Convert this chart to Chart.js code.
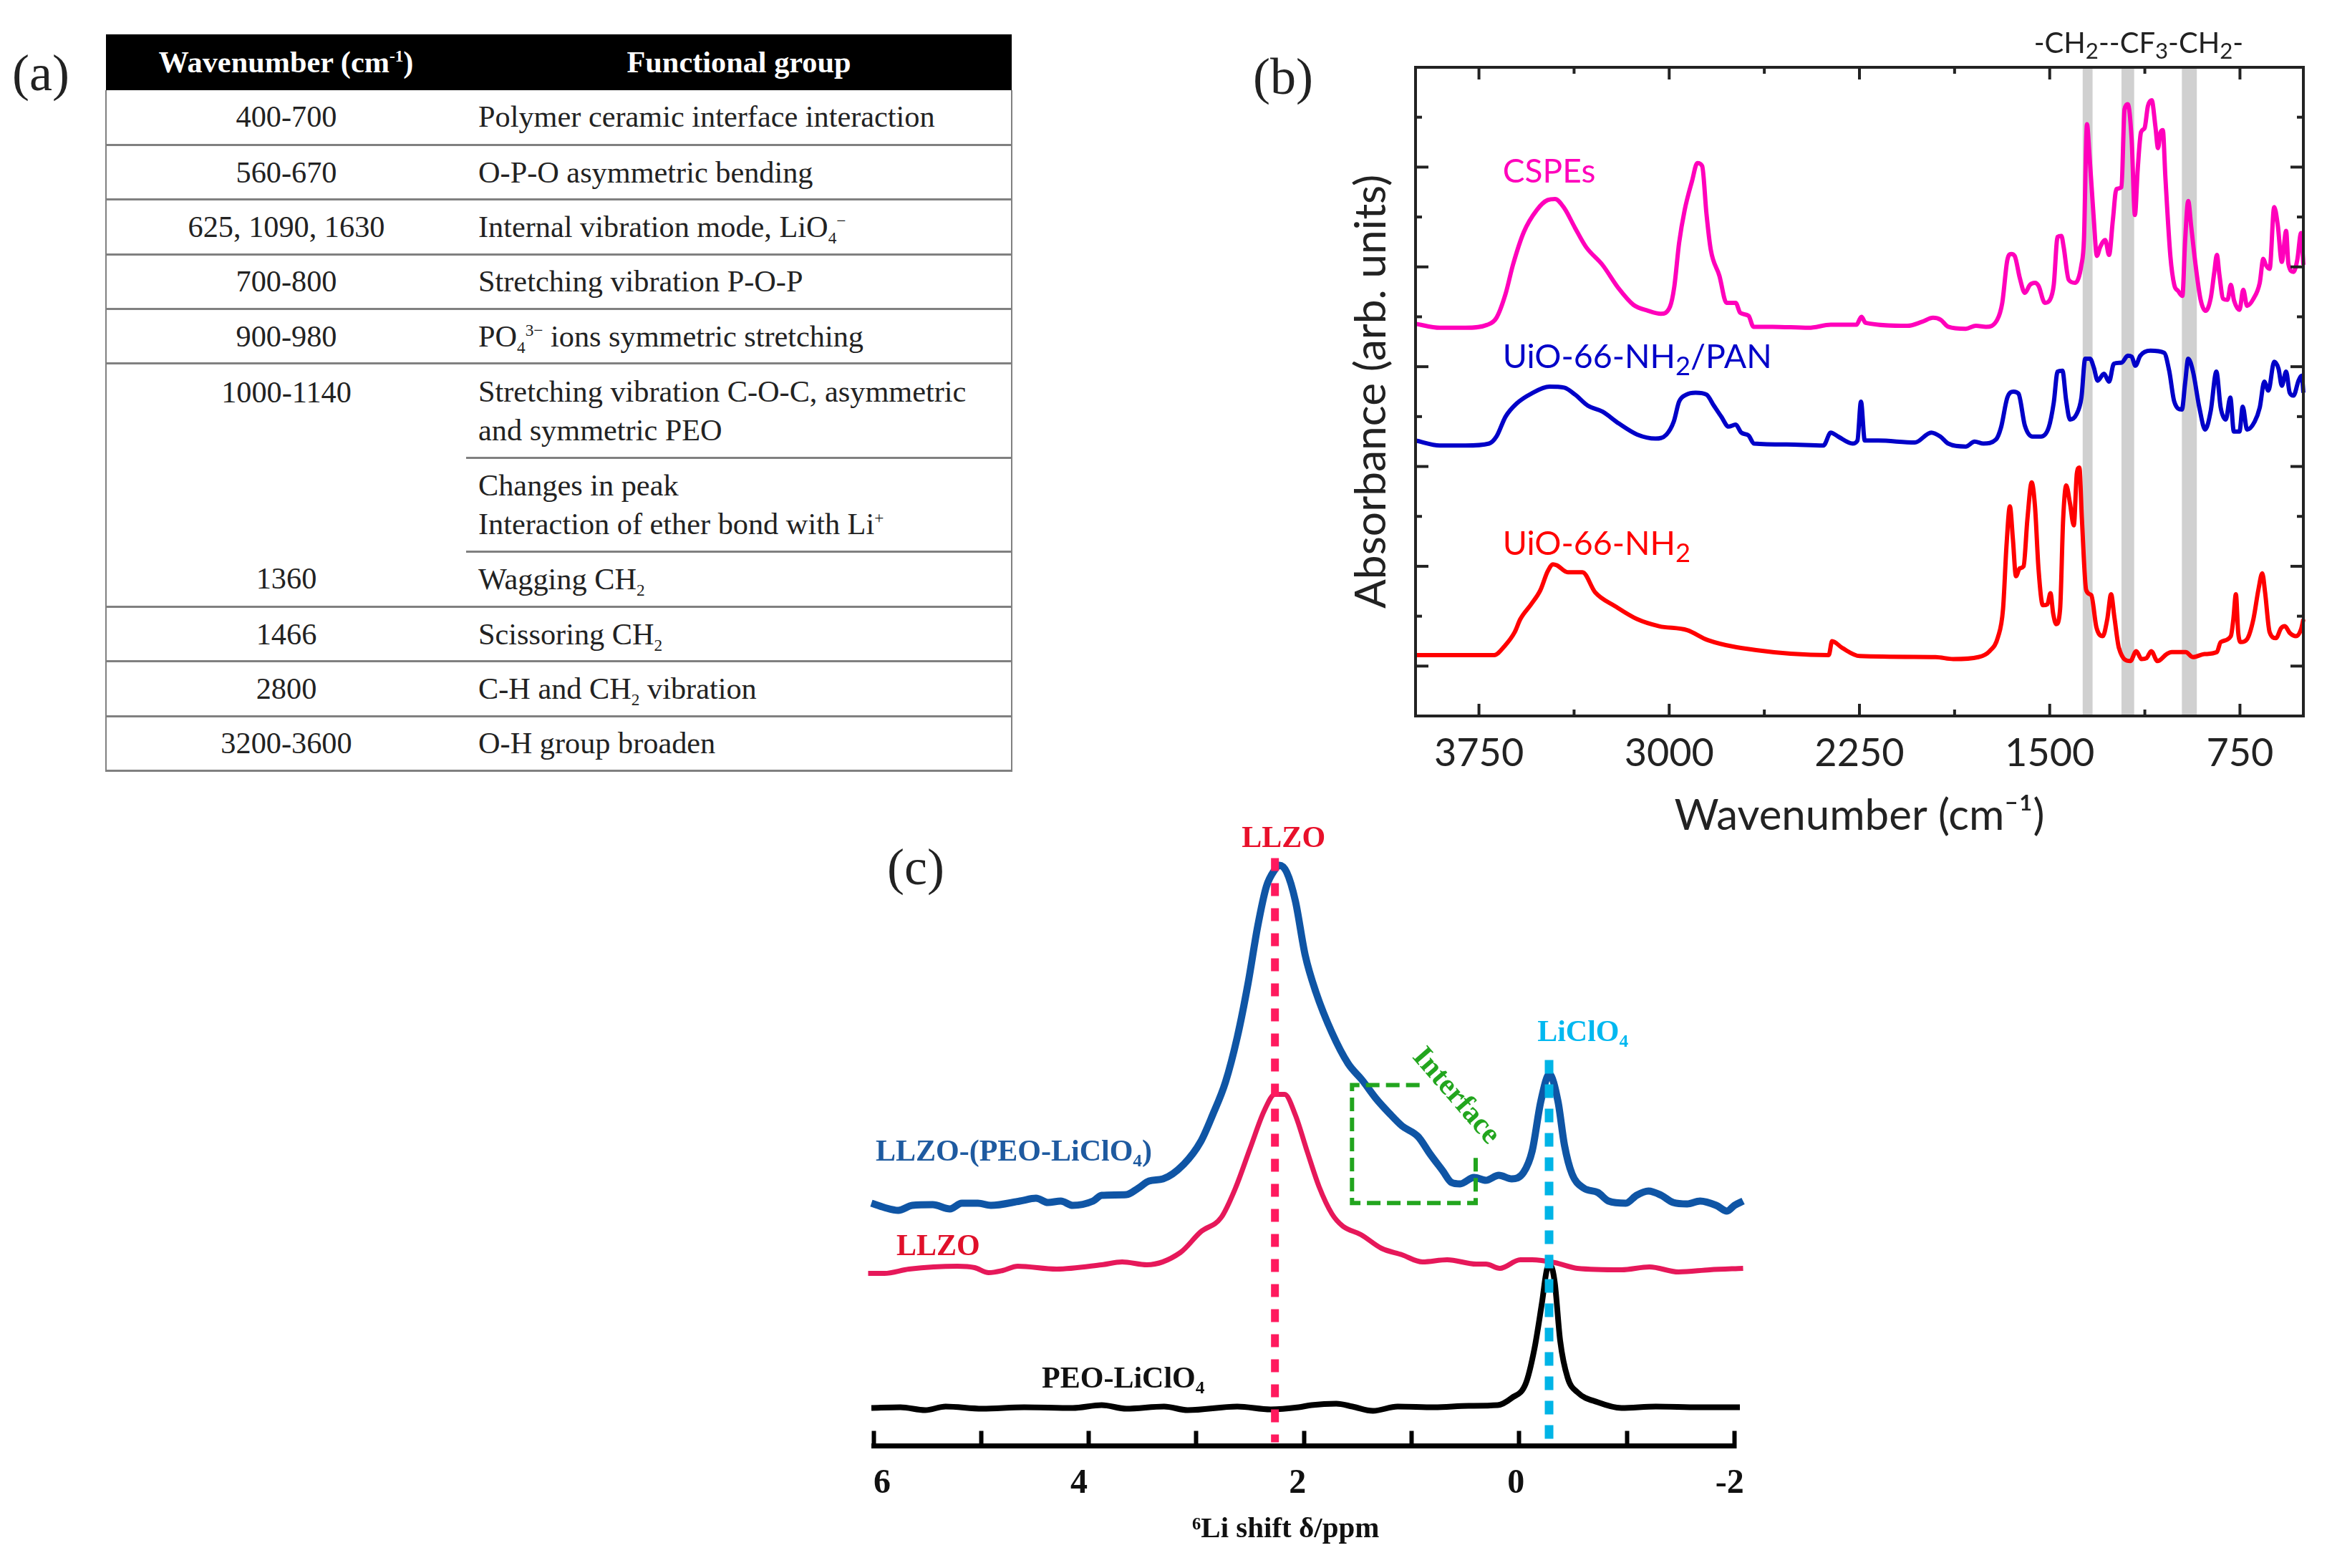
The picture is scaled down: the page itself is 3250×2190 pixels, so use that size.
<!DOCTYPE html>
<html>
<head>
<meta charset="utf-8">
<title>Spectra</title>
<script src="https://cdn.jsdelivr.net/npm/chart.js@4"></script>
<style>
  html, body { margin: 0; background: #fff; }
  #page { position: relative; width: 3250px; height: 2190px; overflow: hidden; }
  .panel { position: absolute; font: 72px/72px "Liberation Serif", serif; color: #222; }
  .box { position: absolute; }
  table { position: absolute; left: 147px; top: 48px; width: 1267px; table-layout: fixed;
    border-collapse: collapse; font: 42.3px/54px "Liberation Serif", serif; color: #222; }
  th { background: #000; color: #fff; height: 78px; padding: 0; font-weight: bold; border: 0; }
  td { padding: 0; border-bottom: 3px solid #808080; box-sizing: border-box; }
  td.a { text-align: center; border-left: 2px solid #808080; }
  td.b { padding-left: 17px; border-right: 2px solid #808080; }
  tr.r td { height: 76.4px; }
  td.top { vertical-align: top; padding-top: 12px; }
  td.open { border-bottom: 0; }
  sub, sup { font-size: 55%; line-height: 0; }
</style>
</head>
<body>
<div id="page">
  <div class="panel" style="left:17px;top:66px">(a)</div>
  <div class="panel" style="left:1750px;top:71px">(b)</div>
  <div class="panel" style="left:1239px;top:1175px">(c)</div>

  <table>
    <colgroup><col style="width:503px"><col></colgroup>
    <tr><th>Wavenumber (cm<sup>-1</sup>)</th><th>Functional group</th></tr>
    <tr class="r"><td class="a">400-700</td><td class="b">Polymer ceramic interface interaction</td></tr>
    <tr class="r"><td class="a">560-670</td><td class="b">O-P-O asymmetric bending</td></tr>
    <tr class="r"><td class="a">625, 1090, 1630</td><td class="b">Internal vibration mode, LiO<sub>4</sub><sup>−</sup></td></tr>
    <tr class="r"><td class="a">700-800</td><td class="b">Stretching vibration P-O-P</td></tr>
    <tr class="r"><td class="a">900-980</td><td class="b">PO<sub>4</sub><sup>3−</sup> ions symmetric stretching</td></tr>
    <tr style="height:132px"><td class="a top open" rowspan="2">1000-1140</td><td class="b">Stretching vibration C-O-C, asymmetric<br>and symmetric PEO</td></tr>
    <tr style="height:131px"><td class="b">Changes in peak<br>Interaction of ether bond with Li<sup>+</sup></td></tr>
    <tr class="r"><td class="a">1360</td><td class="b">Wagging CH<sub>2</sub></td></tr>
    <tr class="r"><td class="a">1466</td><td class="b">Scissoring CH<sub>2</sub></td></tr>
    <tr class="r"><td class="a">2800</td><td class="b">C-H and CH<sub>2</sub> vibration</td></tr>
    <tr class="r"><td class="a">3200-3600</td><td class="b">O-H group broaden</td></tr>
  </table>

  <div class="box" style="left:1860px;top:0;width:1390px;height:1200px"><canvas id="ftir"></canvas></div>
  <div class="box" style="left:1180px;top:1150px;width:1300px;height:1040px"><canvas id="nmr"></canvas></div>
</div>

<script>
// (b) FTIR, values
const cspeWn = [4000,3904,3803,3717,3681,3645,3616,3573,3522,3479,3450,3414,3371,3328,3263,3198,3141,3083,3033,2997,2980,2961,2939,2910,2889,2870,2853,2836,2802,2774,2738,2720,2687,2668,2593,2450,2363,2262,2242,2226,2061,2003,1960,1930,1900,1831,1791,1751,1707,1687,1667,1652,1638,1618,1598,1578,1558,1544,1519,1499,1484,1469,1454,1445,1425,1400,1375,1365,1353,1344,1326,1314,1301,1281,1266,1251,1237,1217,1205,1192,1177,1164,1153,1140,1126,1113,1098,1083,1073,1063,1054,1044,1024,1009,994,977,966,954,942,925,905,885,865,851,841,831,816,799,786,773,752,737,722,697,672,658,648,633,615,601,585,568,559,539,524,509,500];
const cspeAbs = [3.43,3.39,3.39,3.42,3.49,3.73,4.02,4.35,4.57,4.67,4.68,4.59,4.39,4.20,4.02,3.78,3.62,3.56,3.53,3.60,3.80,4.24,4.57,4.86,5.04,5.01,4.53,4.17,3.91,3.64,3.64,3.54,3.51,3.40,3.40,3.39,3.42,3.42,3.50,3.44,3.41,3.45,3.49,3.47,3.40,3.38,3.41,3.40,3.47,3.64,4.07,4.13,4.11,3.89,3.74,3.82,3.84,3.81,3.64,3.67,3.82,4.30,4.31,4.20,3.87,3.84,4.02,4.27,5.43,5.15,4.47,4.11,4.20,4.27,4.12,4.47,4.78,4.80,5.58,5.63,5.28,4.52,4.98,5.35,5.39,5.61,5.67,5.40,5.19,5.35,5.37,4.90,4.10,3.82,3.76,3.71,4.27,4.66,4.40,4.02,3.67,3.56,3.69,3.95,4.12,3.92,3.68,3.67,3.82,3.66,3.57,3.77,3.61,3.68,3.84,4.08,4.02,3.98,4.60,4.42,4.05,4.36,4.03,3.95,4.07,4.34,4.02];
const panWn = [4000,3904,3803,3710,3681,3645,3602,3544,3472,3414,3371,3321,3263,3198,3126,3054,3011,2982,2961,2932,2896,2853,2824,2795,2766,2738,2716,2687,2666,2536,2392,2363,2334,2277,2258,2244,2229,2176,2032,1967,1931,1900,1831,1796,1761,1712,1692,1667,1643,1623,1598,1568,1534,1504,1484,1469,1450,1435,1420,1395,1375,1360,1341,1326,1311,1286,1266,1247,1217,1192,1177,1162,1143,1103,1049,1029,1009,979,966,954,935,910,887,865,843,826,806,788,774,752,739,722,692,672,654,638,615,598,585,568,554,539,519,506,500];
const panAbs = [2.26,2.21,2.21,2.23,2.30,2.50,2.63,2.73,2.80,2.79,2.72,2.61,2.55,2.43,2.32,2.28,2.32,2.45,2.65,2.72,2.74,2.72,2.61,2.50,2.40,2.42,2.34,2.31,2.23,2.22,2.21,2.34,2.30,2.23,2.26,2.65,2.26,2.26,2.24,2.34,2.30,2.23,2.20,2.25,2.23,2.27,2.39,2.69,2.75,2.73,2.41,2.30,2.30,2.39,2.64,2.95,2.96,2.66,2.47,2.52,2.69,3.08,3.08,2.99,2.86,2.93,2.85,3.03,3.04,3.11,3.10,3.01,3.11,3.16,3.14,2.96,2.65,2.57,2.84,3.08,2.95,2.59,2.37,2.56,2.95,2.59,2.47,2.69,2.35,2.35,2.60,2.37,2.45,2.59,2.85,2.76,3.05,2.98,2.81,2.95,2.74,2.71,2.86,2.91,2.74];
const uioWn = [4000,3690,3649,3609,3587,3544,3508,3479,3458,3443,3400,3342,3292,3213,3126,3040,2929,2847,2657,2371,2358,2317,2249,1950,1880,1781,1737,1704,1684,1670,1657,1645,1633,1618,1603,1588,1571,1558,1544,1527,1509,1497,1486,1474,1459,1447,1435,1420,1405,1393,1383,1373,1356,1336,1316,1291,1273,1258,1245,1227,1182,1159,1138,1118,1100,1075,1039,1019,964,935,890,841,826,786,776,766,757,747,722,697,677,662,651,633,608,588,573,553,529,509,500];
const uioAbs = [0.11,0.11,0.20,0.34,0.47,0.62,0.76,0.95,1.02,1.01,0.94,0.94,0.74,0.60,0.47,0.40,0.36,0.26,0.16,0.11,0.25,0.18,0.10,0.09,0.07,0.09,0.15,0.29,0.57,1.22,1.60,1.27,0.90,0.98,1.00,1.47,1.84,1.60,0.97,0.61,0.62,0.73,0.52,0.42,0.57,1.47,1.81,1.63,1.41,1.93,1.99,1.47,0.76,0.71,0.39,0.30,0.47,0.72,0.49,0.18,0.05,0.15,0.07,0.08,0.15,0.05,0.12,0.14,0.14,0.09,0.12,0.14,0.24,0.30,0.47,0.72,0.34,0.24,0.27,0.47,0.77,0.93,0.74,0.34,0.28,0.38,0.40,0.33,0.30,0.37,0.47];
const bandFrom = [1370, 1217, 979];
const bandTo = [1331, 1167, 920];
const ftirMajorX = [3750, 3000, 2250, 1500, 750];
const ftirMinorX = [3375, 2625, 1875, 1125];
const ftirMajorY = [0, 1, 2, 3, 4, 5];
const ftirMinorY = [0.5, 1.5, 2.5, 3.5, 4.5, 5.5];

// (c) 6Li NMR
const hybridPpm = [6.02,5.90,5.77,5.64,5.45,5.29,5.18,5.03,4.91,4.64,4.49,4.38,4.26,4.15,3.96,3.88,3.65,3.54,3.44,3.31,3.12,2.96,2.85,2.73,2.62,2.52,2.43,2.35,2.27,2.23,2.16,2.08,1.99,1.89,1.74,1.59,1.46,1.33,1.21,1.09,0.94,0.83,0.71,0.63,0.55,0.42,0.31,0.19,0.07,-0.04,-0.12,-0.20,-0.28,-0.36,-0.42,-0.49,-0.60,-0.73,-0.83,-0.99,-1.09,-1.20,-1.32,-1.43,-1.56,-1.68,-1.83,-1.93,-2.00,-2.08];
const hybridInt = [3.39,3.33,3.29,3.36,3.37,3.31,3.39,3.39,3.36,3.42,3.46,3.40,3.42,3.36,3.42,3.50,3.51,3.60,3.70,3.73,3.93,4.25,4.62,5.08,5.71,6.46,7.26,7.81,8.05,8.11,8.01,7.61,6.86,6.34,5.77,5.34,5.11,4.85,4.65,4.47,4.32,4.08,3.84,3.68,3.66,3.75,3.71,3.78,3.73,3.82,4.12,4.81,5.19,4.81,4.20,3.80,3.60,3.54,3.42,3.39,3.50,3.56,3.50,3.40,3.38,3.42,3.36,3.28,3.36,3.42];
const llzoPpm = [6.05,5.90,5.67,5.22,5.06,4.93,4.80,4.66,4.30,3.88,3.69,3.46,3.15,2.96,2.77,2.64,2.50,2.37,2.27,2.18,2.08,1.97,1.86,1.74,1.64,1.47,1.28,1.09,0.90,0.67,0.40,0.31,0.18,-0.01,-0.12,-0.33,-0.54,-0.95,-1.21,-1.48,-1.77,-2.08];
const llzoInt = [2.41,2.41,2.47,2.51,2.49,2.42,2.45,2.51,2.47,2.53,2.57,2.53,2.70,2.99,3.19,3.59,4.16,4.68,4.91,4.91,4.62,4.11,3.62,3.24,3.07,2.95,2.76,2.67,2.57,2.60,2.54,2.54,2.48,2.60,2.60,2.56,2.48,2.46,2.50,2.43,2.46,2.48];
const peoPpm = [6.02,5.75,5.52,5.33,4.99,4.60,4.15,3.88,3.65,3.30,3.08,2.62,2.31,2.05,1.93,1.70,1.55,1.36,1.13,0.79,0.47,0.20,0.07,-0.06,-0.14,-0.21,-0.26,-0.29,-0.33,-0.38,-0.45,-0.54,-0.73,-0.95,-1.27,-1.67,-2.05];
const peoInt = [0.53,0.54,0.50,0.55,0.52,0.54,0.53,0.57,0.52,0.55,0.50,0.55,0.51,0.54,0.57,0.59,0.55,0.49,0.55,0.54,0.56,0.57,0.67,0.87,1.35,1.99,2.48,2.52,2.28,1.47,0.95,0.75,0.61,0.53,0.55,0.54,0.54];
const nmrTicks = [6, 5, 4, 3, 2, 1, 0, -1, -2];
const llzoGuidePpm = [2.27, 2.27];
const llzoGuideInt = [8.21, 0.05];
const licloGuidePpm = [-0.277, -0.277];
const licloGuideInt = [5.39, 0.1];
const boxPpm = [0.926, 1.554, 1.554, 0.405, 0.405];
const boxInt = [5.04, 5.04, 3.392, 3.392, 4.083];

const ftirNotes = [
  { text: 'CSPEs', x: 3656, y: 4.842, color: '#ff00bb', size: 46 },
  { text: 'UiO-66-NH₂/PAN', x: 3656, y: 2.984, color: '#0000c8', size: 46.5 },
  { text: 'UiO-66-NH₂', x: 3656, y: 1.112, color: '#ff0000', size: 46.5 },
  { text: '-CH₂--CF₃-CH₂-', x: 1562, y: 6.14, color: '#222', size: 40 }
];
const nmrNotes = [
  { text: 'LLZO', x: 2.19, y: 8.365, color: '#e8102a', align: 'center' },
  { text: 'LiClO₄', x: -0.168, y: 5.655, color: '#00b8f0' },
  { text: 'LLZO-(PEO-LiClO₄)', x: 5.98, y: 3.99, color: '#1e5aa0' },
  { text: 'LLZO', x: 5.787, y: 2.669, color: '#e0102a' },
  { text: 'PEO-LiClO₄', x: 4.436, y: 0.815, color: '#111' },
  { text: 'Interface', x: 0.59, y: 4.885, color: '#22a51e', align: 'center', rotate: 49 },
  { text: '6', x: 5.92, y: -0.655, color: '#111', font: 'bold 48px "Liberation Serif"', align: 'center' },
  { text: '4', x: 4.09, y: -0.655, color: '#111', font: 'bold 48px "Liberation Serif"', align: 'center' },
  { text: '2', x: 2.06, y: -0.655, color: '#111', font: 'bold 48px "Liberation Serif"', align: 'center' },
  { text: '0', x: 0.03, y: -0.655, color: '#111', font: 'bold 48px "Liberation Serif"', align: 'center' },
  { text: '-2', x: -1.955, y: -0.655, color: '#111', font: 'bold 48px "Liberation Serif"', align: 'center' },
  { text: '⁶Li shift δ/ppm', x: 2.17, y: -1.275, color: '#111', font: 'bold 41px "Liberation Serif"', align: 'center' }
];
const subDigits = { '₂': '2', '₃': '3' };

function xy(xs, ys) {
  return xs.map((x, i) => ({ x, y: ys[i] }));
}

function curve(label, xs, ys, color, width) {
  return { label, data: xy(xs, ys), borderColor: color, borderWidth: width, pointRadius: 0,
    cubicInterpolationMode: 'monotone', clip: false, borderJoinStyle: 'round' };
}

function dashed(label, xs, ys, color, width, dash) {
  return { label, data: xy(xs, ys), borderColor: color, borderWidth: width, pointRadius: 0,
    borderDash: dash, clip: false };
}

const bandPlugin = {
  id: 'bands',
  beforeDatasetsDraw(chart) {
    const { ctx, chartArea: a, scales: { x } } = chart;
    ctx.save();
    ctx.fillStyle = '#d0d0d0';
    bandFrom.forEach((from, i) => {
      const l = x.getPixelForValue(from);
      ctx.fillRect(l, a.top, x.getPixelForValue(bandTo[i]) - l, a.height);
    });
    ctx.restore();
  }
};

// inward ticks on all four sides, the library only does one length per axis
const framePlugin = {
  id: 'frame',
  afterDatasetsDraw(chart) {
    const { ctx, chartArea: a, scales: { x, y } } = chart;
    ctx.save();
    ctx.strokeStyle = '#222';
    ctx.lineWidth = 4;
    ctx.strokeRect(a.left, a.top, a.width, a.height);
    const mark = (x1, y1, x2, y2) => {
      ctx.beginPath(); ctx.moveTo(x1, y1); ctx.lineTo(x2, y2); ctx.stroke();
    };
    const xMark = (v, len) => {
      const p = x.getPixelForValue(v);
      mark(p, a.top, p, a.top + len);
      mark(p, a.bottom, p, a.bottom - len);
    };
    const yMark = (v, len) => {
      const p = y.getPixelForValue(v);
      mark(a.left, p, a.left + len, p);
      mark(a.right, p, a.right - len, p);
    };
    ftirMajorX.forEach(v => xMark(v, 17));
    ftirMinorX.forEach(v => xMark(v, 9));
    ftirMajorY.forEach(v => yMark(v, 18));
    ftirMinorY.forEach(v => yMark(v, 9));
    ctx.restore();
  }
};

// size means Lato with real lowered subscripts, otherwise the text goes in as it is
function writeRuns(ctx, text, size, color) {
  let at = 0;
  text.split(/([₂₃])/).forEach(part => {
    const sub = subDigits[part];
    ctx.font = (sub ? size * 0.78 : size) + 'px Lato';
    ctx.fillStyle = color;
    ctx.fillText(sub || part, at, sub ? size * 0.2 : 0);
    at += ctx.measureText(sub || part).width;
  });
}

const notesPlugin = {
  id: 'notes',
  afterDraw(chart, args, opts) {
    const { ctx, scales: { x, y } } = chart;
    opts.items.forEach(n => {
      ctx.save();
      ctx.translate(x.getPixelForValue(n.x), y.getPixelForValue(n.y));
      if (n.rotate) ctx.rotate(n.rotate * Math.PI / 180);
      ctx.textAlign = n.align || 'left';
      ctx.textBaseline = n.rotate ? 'middle' : 'alphabetic';
      if (n.size) {
        writeRuns(ctx, n.text, n.size, n.color);
      } else {
        ctx.font = n.font || opts.font;
        ctx.fillStyle = n.color;
        ctx.fillText(n.text, 0, 0);
      }
      ctx.restore();
    });
  }
};

new Chart(document.getElementById('ftir'), {
  type: 'line',
  data: {
    datasets: [
      curve('CSPEs', cspeWn, cspeAbs, '#ff00bb', 6),
      curve('UiO-66-NH2/PAN', panWn, panAbs, '#0000c8', 6),
      curve('UiO-66-NH2', uioWn, uioAbs, '#ff0000', 6)
    ]
  },
  plugins: [bandPlugin, framePlugin, notesPlugin],
  options: {
    responsive: true,
    maintainAspectRatio: false,
    animation: false,
    layout: { padding: { top: 94, right: 33, left: 0, bottom: 0 } },
    plugins: {
      legend: { display: false },
      tooltip: { enabled: false },
      notes: { items: ftirNotes }
    },
    scales: {
      x: {
        type: 'linear', reverse: true, min: 500, max: 4000,
        grid: { display: false },
        border: { display: false },
        afterBuildTicks: s => { s.ticks = ftirMajorX.map(value => ({ value })); },
        afterFit: s => { s.height = 200; },
        ticks: { color: '#222', padding: 12, maxRotation: 0, autoSkip: false, font: { family: 'Lato', size: 54 }, callback: v => String(v) },
        title: { display: true, text: 'Wavenumber (cm⁻¹)', color: '#222', font: { family: 'Lato', size: 60 }, padding: { top: 0, bottom: 24 } }
      },
      y: {
        min: -0.5, max: 6,
        grid: { display: false },
        border: { display: false },
        ticks: { display: false },
        afterFit: s => { s.width = 117; },
        title: { display: true, text: 'Absorbance (arb. units)', color: '#222', font: { family: 'Lato', size: 60.5 }, padding: { top: 18.7, bottom: 0 } }
      }
    }
  }
});

new Chart(document.getElementById('nmr'), {
  type: 'line',
  data: {
    datasets: [
      dashed('LLZO guide', llzoGuidePpm, llzoGuideInt, '#ff1a5e', 11, [18, 17]),
      dashed('LiClO4 guide', licloGuidePpm, licloGuideInt, '#00b4e6', 12, [19, 15]),
      dashed('Interface box', boxPpm, boxInt, '#22a51e', 6, [19, 9]),
      curve('LLZO-(PEO-LiClO4)', hybridPpm, hybridInt, '#0f55a5', 10),
      curve('LLZO', llzoPpm, llzoInt, '#e6185a', 7),
      curve('PEO-LiClO4', peoPpm, peoInt, '#000', 8)
    ]
  },
  plugins: [notesPlugin],
  options: {
    responsive: true,
    maintainAspectRatio: false,
    animation: false,
    layout: { padding: { top: 9.5, right: 57.5, left: 40, bottom: 0 } },
    plugins: {
      legend: { display: false },
      tooltip: { enabled: false },
      notes: { items: nmrNotes, font: 'bold 42px "Liberation Serif"' }
    },
    scales: {
      x: {
        type: 'linear', reverse: true, min: -2, max: 6,
        afterBuildTicks: s => { s.ticks = nmrTicks.map(value => ({ value })); },
        afterFit: s => { s.height = 170.5; },
        grid: { drawOnChartArea: false, tickLength: -21, tickWidth: 6, tickColor: '#000' },
        border: { color: '#000', width: 7 },
        ticks: { display: false }
      },
      y: { min: 0, max: 8.6, display: false }
    }
  }
});
</script>
</body>
</html>
